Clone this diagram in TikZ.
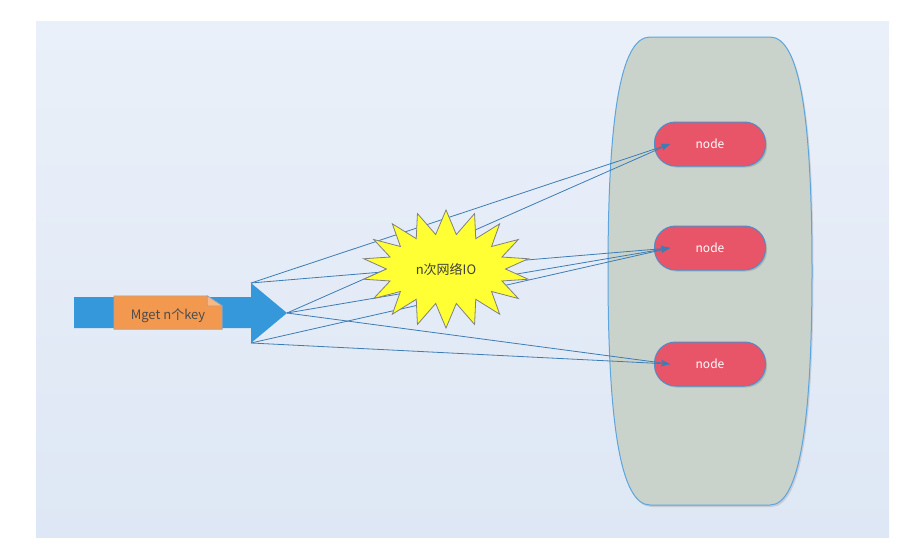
\documentclass[tikz,border=0pt]{standalone}
\usepackage{fontspec}
\newfontfamily\cjk{Noto Sans CJK SC}
\usetikzlibrary{arrows.meta,shapes.symbols,shadows}

\definecolor{panelTop}{HTML}{EAF0F9}
\definecolor{panelBot}{HTML}{DEE7F5}
\definecolor{poolFill}{HTML}{C9D3CB}
\definecolor{poolLine}{HTML}{5DA5DC}
\definecolor{nodeRed}{HTML}{E85468}
\definecolor{nodeLine}{HTML}{4F8CC9}
\definecolor{arrowBlue}{HTML}{3498DB}
\definecolor{noteOrange}{HTML}{F3994F}
\definecolor{noteLine}{HTML}{8DA3BF}
\definecolor{linkBlue}{HTML}{3D7CB4}
\definecolor{burstYellow}{HTML}{FFFF33}

\begin{document}
\begin{tikzpicture}[
  x=1pt, y=-1pt,
  keynode/.style={
    rectangle, rounded corners=21pt, draw=nodeLine, line width=1pt, fill=nodeRed,
    minimum width=111pt, minimum height=44pt, text=white,
    font=\cjk\fontsize{12}{14}\selectfont,
    drop shadow={shadow xshift=1.5pt, shadow yshift=-1.5pt, opacity=0.35}
  },
  link/.style={-{Stealth[length=9pt,width=6pt]}, draw=linkBlue, line width=0.8pt},
  burst/.style={
    starburst, random starburst=0, starburst points=18, starburst point height=24pt,
    fill=burstYellow, draw=gray, line width=0.8pt,
    minimum width=167pt, minimum height=118pt, inner sep=0pt,
    text=black!75, font=\cjk\fontsize{13}{15}\selectfont
  }
]
\useasboundingbox (0,0) rectangle (918,554);

% Background panel
\shade[top color=panelTop, bottom color=panelBot] (36,21) rectangle (889,537);

% Node pool
\filldraw[fill=poolFill, draw=poolLine, line width=1pt,
  drop shadow={shadow xshift=1.5pt, shadow yshift=-2pt, opacity=0.25}]
  (650,37) -- (770,37) .. controls (800,37) and (812,120) .. (812,271)
  .. controls (812,420) and (800,505) .. (770,505) -- (650,505)
  .. controls (620,505) and (608,420) .. (608,271)
  .. controls (608,120) and (620,37) .. (650,37) -- cycle;

% Request arrow
\coordinate (ht) at (251,283);
\coordinate (tip) at (287,313);
\coordinate (hb) at (251,343);
\fill[arrowBlue] (74,297) -- (251,297) -- (ht) -- (tip) -- (hb) -- (251,328) -- (74,328) -- cycle;

% Note
\node[minimum width=108pt, minimum height=33pt, inner sep=0pt] (note) at (168,312.5) {};
\filldraw[fill=noteOrange, draw=noteLine, line width=0.6pt]
  (note.south west) -- (note.north west) -- ([xshift=-15pt]note.north east)
  -- ([yshift=-10pt]note.north east) -- (note.south east) -- cycle;
\filldraw[fill=noteOrange!70!white, draw=noteLine, line width=0.6pt]
  ([xshift=-15pt]note.north east) -- ([xshift=-15pt,yshift=-10pt]note.north east)
  -- ([yshift=-10pt]note.north east) -- cycle;
\node[text=black!70, font=\cjk\fontsize{13}{15}\selectfont] (notetext)
  at ([yshift=-3pt]note.center) {Mget n个key};

% Nodes
\node[keynode] (n1) at (710,144) {node};
\node[keynode] (n2) at (710,248) {node};
\node[keynode] (n3) at (710,364) {node};

% Links
\foreach \s/\t in {ht/n1,ht/n2,tip/n1,tip/n2,tip/n3,hb/n2,hb/n3}
  \draw[link] (\s) -- ([xshift=16pt]\t.west);

% Network IO burst
\node[burst] (io) at (446,269) {n次网络IO};

\end{tikzpicture}
\end{document}
